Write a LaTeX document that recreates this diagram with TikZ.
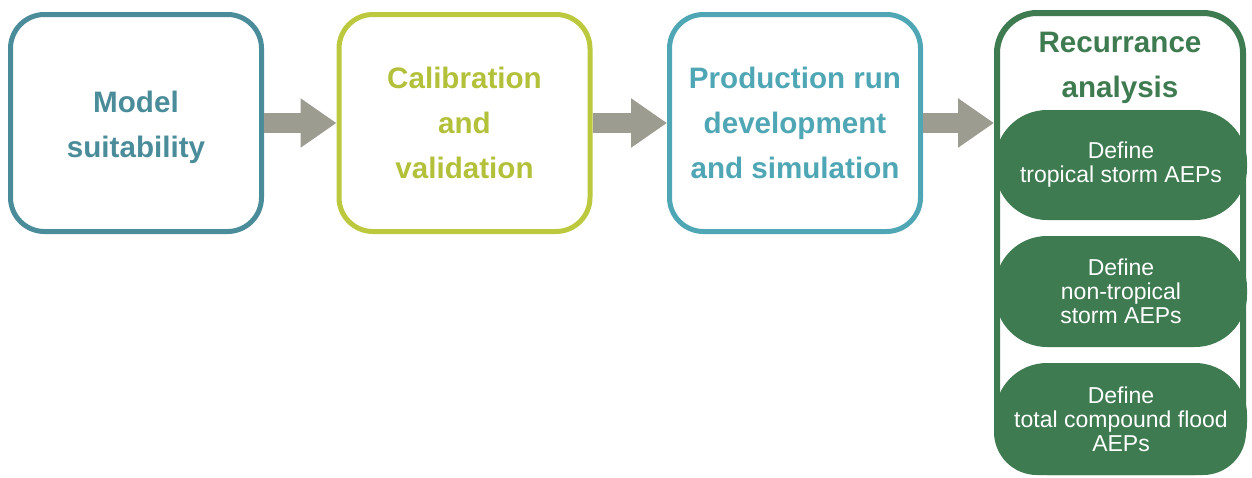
\documentclass[tikz,border=0pt]{standalone}
\usepackage{fontspec}
\setmainfont{Liberation Sans}
\usetikzlibrary{arrows.meta}
\definecolor{suitteal}{HTML}{4A8C99}
\definecolor{calibline}{HTML}{BCC83E}
\definecolor{calibtext}{HTML}{B2C03A}
\definecolor{prodteal}{HTML}{4FA6B4}
\definecolor{recgreen}{HTML}{3F7B50}
\definecolor{flowgray}{HTML}{9C9C91}
\begin{document}
\begin{tikzpicture}[x=0.5pt, y=-0.5pt,
                    stage/.style = {draw, line width=2.5pt, rounded corners=17pt,
                            align=center, inner sep=0pt,
                            minimum width=125.5pt, minimum height=108.5pt,
                            font=\fontsize{14.8}{22.5}\selectfont\bfseries},
                    pill/.style = {fill=recgreen, rounded corners=26pt, align=center,
                            inner sep=0pt, minimum width=126pt, text=white,
                            font=\fontsize{11.5}{12}\selectfont},
                    flow/.style = {draw=flowgray, line width=10pt,
                            -{Triangle[length=18pt, width=23.5pt]}}]
\useasboundingbox (0,0) rectangle (1252,477);
\node[stage, draw=suitteal] (suit) at (136,123) {};
\node[text=suitteal, align=center, font=\fontsize{14.8}{22.5}\selectfont\bfseries]
      (suittext) at (136,127) {Model\\suitability};
\node[stage, draw=calibline, text=calibtext] (calib) at (464.5,123) {Calibration\\and\\validation};
\node[stage, draw=prodteal, text=prodteal] (prod) at (795,123) {Production run\\development\\and simulation};
\node[stage, draw=recgreen, line width=3pt, minimum width=123pt, minimum height=229.5pt,
      rounded corners=20pt] (rec) at (1120,242.5) {};
\node[text=recgreen, align=center, font=\fontsize{14.8}{22.5}\selectfont\bfseries]
      (rectitle) at (1120,68) {Recurrance\\analysis};
\node[pill, minimum height=55pt] (trop) at (1121,165) {Define\\tropical storm AEPs};
\node[pill, minimum height=55.5pt] (nontrop) at (1121,291.5) {Define\\non-tropical\\storm AEPs};
\node[pill, minimum height=56pt] (total) at (1121,419) {Define\\total compound flood\\AEPs};
\draw[flow] (suit.east) -- (calib.west);
\draw[flow] (calib.east) -- (prod.west);
\draw[flow] (prod.east) -- (rec.west |- prod.east);
\end{tikzpicture}
\end{document}
